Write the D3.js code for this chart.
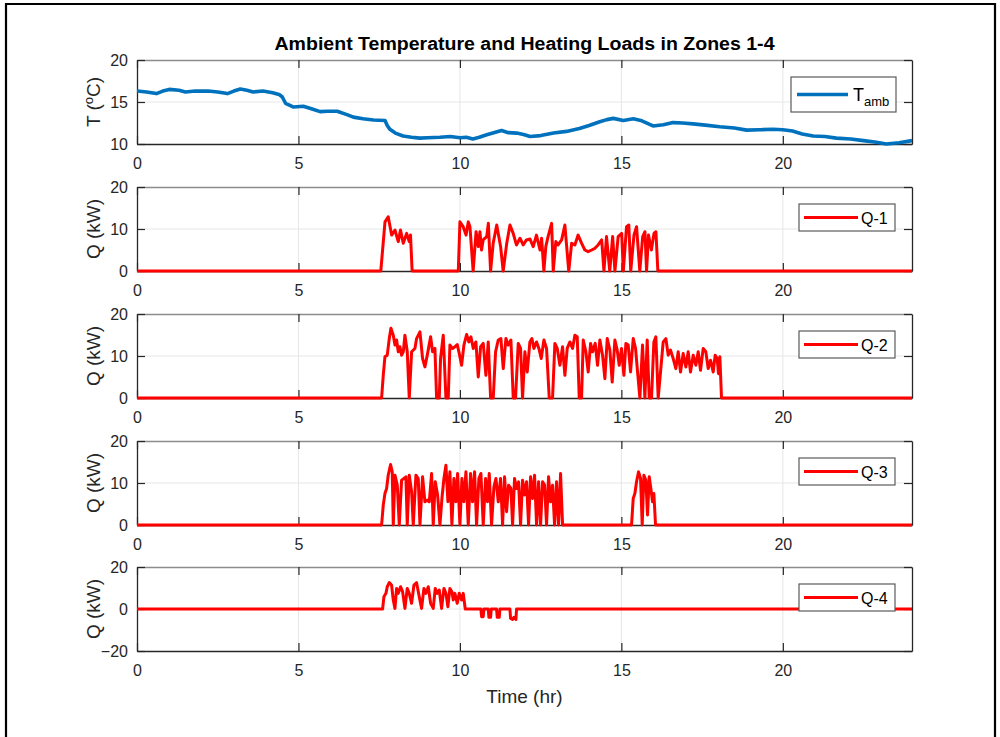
<!DOCTYPE html>
<html>
<head>
<meta charset="utf-8">
<script src="https://cdn.jsdelivr.net/npm/d3@7"></script>
<style>
  html, body { margin: 0; padding: 0; background: #fff; }
  svg { display: block; font-family: "Liberation Sans", Arial, Helvetica, sans-serif; }
</style>
</head>
<body>
<svg id="chart" width="1000" height="737"></svg>
<script>
// ---- data: [hour, value] ----
const ambientTemp = [
  [0,16.3],[0.3,16.2],[0.6,16.0],[0.8,16.3],[1.0,16.5],[1.3,16.4],[1.5,16.2],[1.8,16.3],
  [2.2,16.3],[2.5,16.2],[2.8,16.0],[3.0,16.3],[3.2,16.55],[3.4,16.4],[3.6,16.2],[3.9,16.3],
  [4.2,16.1],[4.4,15.9],[4.5,15.6],[4.6,14.85],[4.85,14.4],[5.15,14.5],[5.4,14.2],[5.67,13.85],
  [5.9,13.9],[6.2,13.9],[6.5,13.5],[6.7,13.2],[7.0,13.0],[7.32,12.85],[7.68,12.8],[7.75,12.2],
  [7.83,11.75],[8.0,11.3],[8.24,10.95],[8.5,10.8],[8.76,10.7],[9.0,10.75],[9.38,10.8],[9.7,10.9],
  [10.0,10.75],[10.2,10.8],[10.4,10.6],[10.6,10.8],[10.83,11.1],[11.1,11.4],[11.29,11.6],[11.5,11.35],
  [11.76,11.3],[12.0,11.1],[12.17,10.9],[12.5,11.0],[12.9,11.3],[13.3,11.5],[13.7,11.85],[14.0,12.2],
  [14.33,12.65],[14.55,12.9],[14.75,13.05],[15.06,12.8],[15.37,13.0],[15.6,12.8],[15.98,12.15],[16.3,12.3],
  [16.6,12.55],[16.9,12.5],[17.22,12.4],[17.6,12.25],[18.05,12.05],[18.5,11.9],[18.88,11.65],[19.3,11.7],
  [19.7,11.75],[20.0,11.7],[20.3,11.55],[20.6,11.2],[20.94,10.95],[21.3,10.9],[21.66,10.7],[22.1,10.6],
  [22.5,10.4],[22.9,10.2],[23.2,10.0],[23.6,10.15],[24,10.4]
];

const load1 = [
  [0,0],[7.55,0],[7.68,11.7],[7.78,12.9],[7.885,8.55],[7.99,9.75],[8.09,7.0],[8.16,9.75],[8.245,6.6],
  [8.35,8.95],[8.43,7.0],[8.47,8.55],[8.52,0],[9.95,0],[10.0,11.7],[10.1,10.55],[10.19,8.55],[10.26,11.7],
  [10.31,10.55],[10.41,0],[10.5,9.35],[10.57,5.8],[10.62,9.35],[10.67,5.0],[10.72,7.4],[10.83,8.2],
  [10.88,11.35],[10.95,0],[11.03,6.6],[11.14,10.95],[11.26,5.8],[11.34,0],[11.45,6.6],[11.55,10.95],
  [11.65,8.95],[11.75,6.2],[11.86,7.8],[11.96,6.2],[12.06,7.4],[12.17,7.6],[12.27,5.8],[12.37,8.55],
  [12.48,5.0],[12.53,7.8],[12.6,0],[12.66,5.8],[12.73,8.2],[12.84,11.35],[12.89,0],[12.97,7.0],
  [13.04,6.2],[13.15,7.4],[13.25,10.95],[13.37,0],[13.46,6.6],[13.56,6.2],[13.66,8.55],[13.77,6.6],
  [13.87,5.0],[13.97,4.6],[14.08,5.0],[14.18,5.4],[14.28,6.2],[14.39,7.4],[14.46,0],[14.54,8.2],
  [14.64,0],[14.73,8.2],[14.8,0],[14.9,8.2],[15.01,8.95],[15.06,0],[15.16,10.55],[15.23,10.95],
  [15.29,0],[15.39,8.55],[15.47,10.55],[15.57,0],[15.66,8.2],[15.73,9.35],[15.78,0],[15.84,8.55],
  [15.93,5.0],[16.01,8.95],[16.07,9.35],[16.13,0],[24,0]
];

const load2 = [
  [0,0],[7.575,0],[7.626,5.4],[7.678,9.8],[7.75,10.2],[7.812,14.15],[7.864,16.6],[7.936,14.95],
  [7.988,12.6],[8.039,13.8],[8.091,11.0],[8.142,12.2],[8.194,10.2],[8.246,11.0],[8.297,14.95],
  [8.369,11.0],[8.431,0],[8.504,11.0],[8.607,11.8],[8.658,14.15],[8.762,15.75],[8.844,9.4],
  [8.916,7.4],[8.989,10.2],[9.092,14.57],[9.154,11.0],[9.226,11.8],[9.278,0],[9.36,0],[9.401,9.4],
  [9.484,14.95],[9.567,0],[9.639,0],[9.69,12.6],[9.773,11.8],[9.845,12.2],[9.917,12.74],[9.979,10.6],
  [10.052,7.8],[10.124,12.6],[10.207,15.12],[10.279,13.35],[10.341,14.57],[10.413,11.8],[10.495,13.35],
  [10.568,5.0],[10.64,12.2],[10.722,13.0],[10.805,5.4],[10.877,13.35],[10.95,0],[11.032,0],[11.104,11.0],
  [11.187,13.8],[11.269,14.15],[11.342,7.0],[11.424,14.15],[11.496,12.6],[11.579,13.8],[11.651,0],
  [11.723,0],[11.806,13.0],[11.878,11.8],[11.94,0],[12.012,11.0],[12.085,6.2],[12.167,13.35],
  [12.229,14.15],[12.291,11.8],[12.374,13.35],[12.446,11.8],[12.518,9.4],[12.601,13.8],[12.683,11.8],
  [12.766,0],[12.869,0],[12.941,13.0],[13.014,11.8],[13.096,7.8],[13.179,12.2],[13.251,5.4],
  [13.323,11.8],[13.406,13.35],[13.488,11.8],[13.56,14.95],[13.633,14.57],[13.695,0],[13.767,0],
  [13.819,13.8],[13.901,11.0],[13.973,6.2],[14.046,13.0],[14.108,11.0],[14.19,13.0],[14.262,7.8],
  [14.334,13.8],[14.417,10.2],[14.489,4.6],[14.562,14.15],[14.644,11.4],[14.716,3.8],[14.799,13.8],
  [14.871,11.4],[14.933,7.8],[15.005,11.8],[15.078,5.4],[15.14,13.0],[15.212,12.6],[15.284,6.2],
  [15.367,14.15],[15.439,11.8],[15.501,6.2],[15.573,0],[15.655,12.6],[15.728,0],[15.8,13.8],
  [15.862,0],[15.934,0],[16.006,13.35],[16.068,14.57],[16.14,0],[16.213,6.2],[16.295,13.35],
  [16.378,14.15],[16.45,10.2],[16.522,11.4],[16.605,9.4],[16.687,7.0],[16.76,11.0],[16.832,6.2],
  [16.914,10.6],[16.997,7.4],[17.069,11.0],[17.141,6.2],[17.224,10.2],[17.306,7.8],[17.379,11.0],
  [17.451,6.6],[17.534,11.8],[17.616,11.0],[17.688,7.0],[17.761,9.0],[17.843,6.2],[17.905,10.2],
  [17.967,9.4],[18.008,5.8],[18.05,9.8],[18.101,0],[24,0]
];

const load3 = [
  [0,0],[7.575,0],[7.626,4.74],[7.678,7.51],[7.73,8.7],[7.78,11.86],[7.853,14.4],[7.905,12.65],
  [7.936,0],[7.988,11.86],[8.06,9.49],[8.122,0],[8.194,10.68],[8.266,11.07],[8.328,11.47],[8.369,0],
  [8.431,11.86],[8.504,7.91],[8.555,0],[8.638,11.86],[8.71,11.07],[8.762,0],[8.844,11.47],[8.916,5.53],
  [8.988,5.93],[9.05,5.53],[9.123,12.26],[9.174,0],[9.236,10.28],[9.309,7.12],[9.381,0],[9.443,6.33],
  [9.505,11.07],[9.567,14.23],[9.628,5.53],[9.69,12.65],[9.752,0],[9.814,11.07],[9.876,5.53],
  [9.928,12.26],[10.0,0],[10.062,11.07],[10.124,5.53],[10.186,12.65],[10.258,0],[10.33,12.26],
  [10.392,5.53],[10.454,12.65],[10.516,0],[10.588,11.07],[10.65,12.26],[10.722,0],[10.795,11.07],
  [10.857,5.53],[10.908,12.26],[10.98,0],[11.053,9.09],[11.115,11.07],[11.187,5.53],[11.259,11.07],
  [11.321,0],[11.383,11.47],[11.445,3.16],[11.507,9.49],[11.579,8.7],[11.631,0],[11.692,11.07],
  [11.754,8.7],[11.816,10.28],[11.878,0],[11.94,10.68],[12.002,7.12],[12.064,10.28],[12.126,0],
  [12.188,11.47],[12.25,6.33],[12.312,11.86],[12.374,0],[12.436,10.28],[12.498,0],[12.56,10.28],
  [12.622,9.49],[12.683,0],[12.745,11.47],[12.807,5.53],[12.869,9.49],[12.931,0],[12.993,10.28],
  [13.055,0],[13.117,12.26],[13.179,0],[15.315,0],[15.367,6.33],[15.418,7.51],[15.47,10.28],
  [15.532,12.65],[15.594,11.07],[15.645,0],[15.697,11.86],[15.758,10.68],[15.81,2.37],[15.862,11.47],
  [15.913,8.7],[15.965,5.53],[16.006,7.51],[16.058,0],[24,0]
];

const load4 = [
  [0,0],[7.606,0],[7.647,5.87],[7.709,7.46],[7.75,10.6],[7.812,12.54],[7.884,11.4],[7.936,4.3],
  [7.988,0.3],[8.039,9.8],[8.091,7.46],[8.163,10.6],[8.225,8.25],[8.297,0.3],[8.369,9.8],[8.431,7.46],
  [8.504,2.7],[8.576,11.4],[8.658,12.54],[8.741,5.87],[8.813,0.3],[8.885,9.8],[8.947,7.46],[9.02,10.6],
  [9.092,2.7],[9.174,0.3],[9.236,9.8],[9.298,7.46],[9.36,9.05],[9.432,0.3],[9.505,9.8],[9.567,7.46],
  [9.628,1.1],[9.69,9.8],[9.752,8.25],[9.794,4.3],[9.845,7.46],[9.917,2.7],[9.979,7.46],[10.052,4.3],
  [10.103,7.46],[10.165,0],[10.65,0],[10.671,-3.65],[10.722,-3.65],[10.743,0],[10.877,0],[10.898,-3.97],
  [10.95,-3.97],[10.971,0],[11.135,0],[11.156,-3.97],[11.218,-3.97],[11.238,0],[11.548,0],[11.569,-4.44],
  [11.63,-4.92],[11.672,-3.97],[11.734,-4.92],[11.754,0],[24,0]
];

// ---- axis settings ----
const hourTicks = [0, 5, 10, 15, 20];
const panelYDomains = [[10, 20], [0, 20], [0, 20], [0, 20], [-20, 20]];
const panelYTicks = [[10, 15, 20], [0, 10, 20], [0, 10, 20], [0, 10, 20], [-20, 0, 20]];
const panelSeries = [ambientTemp, load1, load2, load3, load4];
const legendNames = ["T", "Q-1", "Q-2", "Q-3", "Q-4"];
const titleText = "Ambient Temperature and Heating Loads in Zones 1-4";
const xLabelText = "Time (hr)";

// ---- layout ----
const plotLeft = 137, plotRight = 912, panelHeight = 84;
const panelTops = [60, 187, 314, 441, 567];
const axisColor = "#262626", gridColor = "#e6e6e6", boxTopColor = "#8c8c8c";
const blue = "#0072BD", red = "#FF0000";

const svg = d3.select("#chart");

// figure frame
svg.append("path")
  .attr("d", "M6,737 L6,4 L995,4 L995,737")
  .attr("fill", "none").attr("stroke", "#000").attr("stroke-width", 2.2);

const x = d3.scaleLinear().domain([0, 24]).range([plotLeft, plotRight]);

svg.append("text")
  .attr("x", (plotLeft + plotRight) / 2).attr("y", 50)
  .attr("text-anchor", "middle")
  .attr("font-size", 18).attr("font-weight", "bold").attr("fill", "#000")
  .attr("textLength", 500).attr("lengthAdjust", "spacingAndGlyphs")
  .text(titleText);

panelSeries.forEach((series, i) => {
  const top = panelTops[i], bottom = top + panelHeight;
  const y = d3.scaleLinear().domain(panelYDomains[i]).range([bottom, top]);
  const g = svg.append("g");

  // grid
  g.append("g").selectAll("line").data(hourTicks.filter(t => t > 0)).join("line")
    .attr("x1", d => x(d)).attr("x2", d => x(d)).attr("y1", top).attr("y2", bottom)
    .attr("stroke", gridColor).attr("stroke-width", 1);
  g.append("g").selectAll("line").data(panelYTicks[i].filter(v => v > panelYDomains[i][0] && v < panelYDomains[i][1])).join("line")
    .attr("x1", plotLeft).attr("x2", plotRight).attr("y1", d => y(d)).attr("y2", d => y(d))
    .attr("stroke", gridColor).attr("stroke-width", 1);

  // axes (ticks point inward)
  const bottomAxis = d3.axisBottom(x).tickValues(hourTicks).tickSizeInner(-8).tickSizeOuter(0).tickPadding(14);
  const topAxis = d3.axisTop(x).tickValues(hourTicks).tickSizeInner(-8).tickSizeOuter(0).tickFormat("");
  const leftAxis = d3.axisLeft(y).tickValues(panelYTicks[i]).tickSizeInner(-8).tickSizeOuter(0).tickPadding(9);
  const rightAxis = d3.axisRight(y).tickValues(panelYTicks[i]).tickSizeInner(-8).tickSizeOuter(0).tickFormat("");

  const styleAxis = (sel, domainColor) => {
    sel.attr("font-family", null).attr("font-size", 16);
    sel.select(".domain").attr("stroke", domainColor).attr("stroke-width", 1.3);
    sel.selectAll(".tick line").attr("stroke", axisColor).attr("stroke-width", 1.2);
    sel.selectAll(".tick text").attr("fill", axisColor);
  };
  g.append("g").attr("transform", `translate(0,${top})`).call(topAxis).call(s => styleAxis(s, boxTopColor));
  g.append("g").attr("transform", `translate(${plotRight},0)`).call(rightAxis).call(s => styleAxis(s, axisColor));
  g.append("g").attr("transform", `translate(0,${bottom})`).call(bottomAxis).call(s => styleAxis(s, axisColor));
  g.append("g").attr("transform", `translate(${plotLeft},0)`).call(leftAxis).call(s => styleAxis(s, axisColor));
  g.selectAll(".tick text").filter(function () { return this.textContent === ""; }).remove();

  // data line
  const color = i === 0 ? blue : red;
  const line = d3.line().x(d => x(d[0])).y(d => y(d[1])).curve(d3.curveLinear);
  g.append("path").datum(series)
    .attr("d", line)
    .attr("fill", "none").attr("stroke", color)
    .attr("stroke-width", i === 0 ? 3.6 : 3)
    .attr("stroke-linejoin", "round");

  // y-axis label
  const yl = g.append("text")
    .attr("transform", `translate(100,${(top + bottom) / 2}) rotate(-90)`)
    .attr("text-anchor", "middle").attr("font-size", 19).attr("fill", axisColor);
  if (i === 0) {
    yl.append("tspan").text("T (");
    yl.append("tspan").attr("font-size", 13).attr("dy", -7).text("o");
    yl.append("tspan").attr("dy", 7).text("C)");
  } else {
    yl.text("Q (kW)");
  }

  // legend
  const lg = g.append("g");
  if (i === 0) {
    lg.append("rect").attr("x", 791).attr("y", top + 17).attr("width", 105).attr("height", 35)
      .attr("fill", "#fff").attr("stroke", "#5a5a5a").attr("stroke-width", 1.2);
    lg.append("line").attr("x1", 797).attr("x2", 848).attr("y1", top + 34.5).attr("y2", top + 34.5)
      .attr("stroke", color).attr("stroke-width", 3.6);
    const lt = lg.append("text").attr("x", 853).attr("y", top + 41).attr("font-size", 18).attr("fill", "#000");
    lt.append("tspan").text(legendNames[i]);
    lt.append("tspan").attr("font-size", 13).attr("dy", 5).text("amb");
  } else {
    lg.append("rect").attr("x", 799).attr("y", top + 17).attr("width", 96).attr("height", 27)
      .attr("fill", "#fff").attr("stroke", "#5a5a5a").attr("stroke-width", 1.2);
    lg.append("line").attr("x1", 804).attr("x2", 858).attr("y1", top + 30.5).attr("y2", top + 30.5)
      .attr("stroke", color).attr("stroke-width", 3);
    lg.append("text").attr("x", 861).attr("y", top + 36.5).attr("font-size", 16).attr("fill", "#000")
      .text(legendNames[i]);
  }
});

svg.append("text")
  .attr("x", (plotLeft + plotRight) / 2).attr("y", 703)
  .attr("text-anchor", "middle").attr("font-size", 19).attr("fill", axisColor)
  .text(xLabelText);
</script>
</body>
</html>
